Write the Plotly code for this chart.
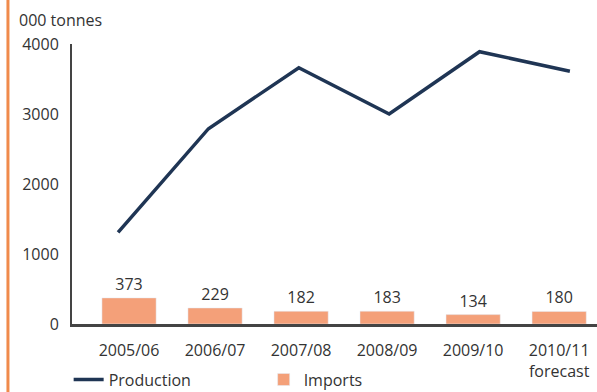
"""Production and imports chart"""
import plotly.graph_objs as go

# data
seasons = ['2005/06', '2006/07', '2007/08', '2008/09', '2009/10', '2010/11<br>forecast']
production = [1310, 2790, 3660, 3000, 3890, 3610]
imports = [373, 229, 182, 183, 134, 180]

bar_color = '#f4a079'
line_color = '#1f3554'
text_color = '#333333'
font_name = 'Open Sans'

# data
data = [
    go.Bar(x=seasons, y=imports, name='Imports', width=0.63,
           marker=dict(color=bar_color),
           text=imports, textposition='outside',
           textfont=dict(size=16, color=text_color), cliponaxis=False),
    go.Scatter(x=seasons, y=production, name='Production', xaxis='x2',
               mode='lines', line=dict(color=line_color, width=3.5)),
]

# layout
layout = go.Layout(
    width=597, height=392,
    margin=dict(l=72, r=0, t=44, b=68),
    paper_bgcolor='white', plot_bgcolor='white',
    font=dict(family=font_name, size=16, color=text_color),
    xaxis=dict(range=[-0.663, 5.44], showline=True, linecolor='#444444', linewidth=2.5,
               ticks='', showgrid=False, tickfont=dict(size=16),
               ticklabelstandoff=10, automargin=False),
    xaxis2=dict(overlaying='x', range=[-0.51, 5.30], visible=False),
    yaxis=dict(range=[0, 4000], tickvals=[0, 1000, 2000, 3000, 4000],
               showline=True, linecolor='#444444', linewidth=2,
               showgrid=False, zeroline=False, ticks='', ticklabelstandoff=8,
               tickfont=dict(size=16), automargin=False),
    showlegend=True,
    legend=dict(orientation='h', xref='container', x=0.115, yref='container',
                y=0.075, yanchor='top', entrywidth=150, entrywidthmode='pixels',
                bgcolor='rgba(0,0,0,0)',
                font=dict(size=16, color=text_color), traceorder='reversed'),
    annotations=[dict(text='000 tonnes', xref='paper', yref='paper',
                      x=-0.104, y=1.04, xanchor='left', yanchor='bottom',
                      showarrow=False, font=dict(size=16, color=text_color))],
    shapes=[dict(type='line', xref='paper', yref='paper',
                 x0=-0.122, x1=-0.122, y0=-0.3, y1=1.2,
                 line=dict(color='#f08a4b', width=3))],
)
fig = go.Figure(data=data, layout=layout)
fig.update_layout(hovermode=False)
# drop the default page margin so the figure sits at the window corner
fig.write_html('out.html', config={'displayModeBar': False},
               post_script="document.body.style.margin='0';")
